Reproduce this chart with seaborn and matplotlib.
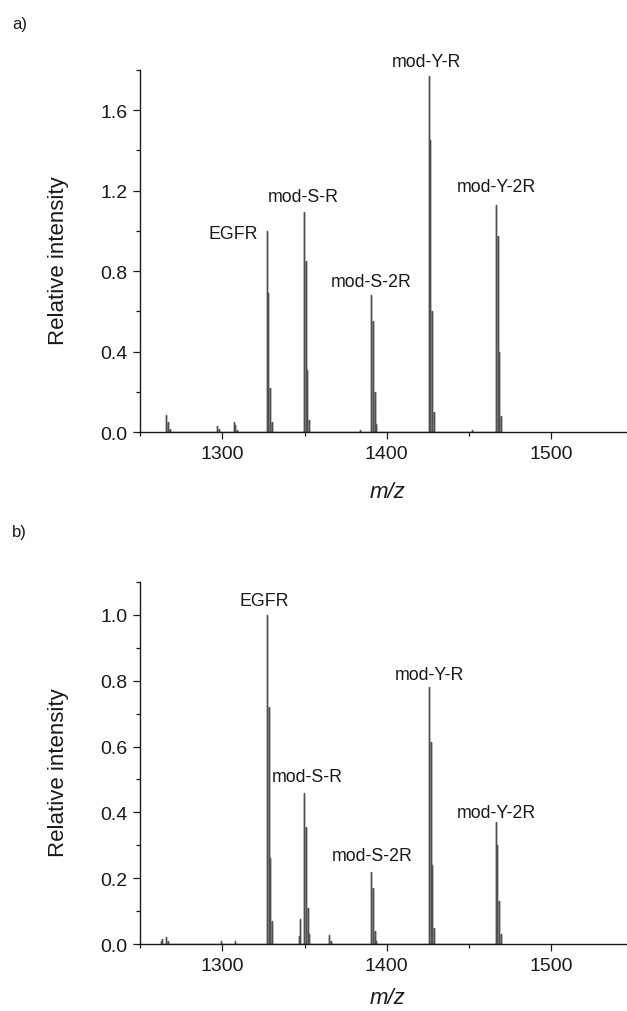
"""Two stacked mass spectra (EGFR peptide and its modified forms)."""

import matplotlib.pyplot as plt
import pandas as pd
import seaborn as sns
from matplotlib.ticker import FormatStrFormatter, MultipleLocator

# ---- data ------------------------------------------------------------------
# panel a) stick spectrum: m/z and relative intensity
mz_a = [1266.0, 1267.0, 1268.0, 1297.0, 1298.0, 1307.0, 1308.0, 1309.0,
        1327.0, 1328.0, 1329.0, 1330.0,
        1349.8, 1350.8, 1351.8, 1352.8,
        1383.6,
        1390.6, 1391.6, 1392.6, 1393.6,
        1425.5, 1426.5, 1427.5, 1428.5,
        1452.0,
        1466.4, 1467.4, 1468.4, 1469.4]
int_a = [0.085, 0.05, 0.015, 0.03, 0.015, 0.05, 0.035, 0.01,
         1.00, 0.69, 0.22, 0.05,
         1.095, 0.85, 0.31, 0.06,
         0.01,
         0.68, 0.55, 0.20, 0.04,
         1.77, 1.45, 0.60, 0.10,
         0.01,
         1.13, 0.975, 0.40, 0.08]

# panel b)
mz_b = [1262.5, 1263.5, 1266.0, 1267.0, 1299.0, 1308.0,
        1327.1, 1328.1, 1329.1, 1330.1,
        1346.4, 1347.5,
        1349.9, 1350.9, 1351.9, 1352.9,
        1365.0, 1366.0,
        1390.7, 1391.7, 1392.7, 1393.7,
        1425.6, 1426.6, 1427.6, 1428.6,
        1466.2, 1467.2, 1468.2, 1469.2]
int_b = [0.01, 0.015, 0.02, 0.01, 0.008, 0.008,
         1.00, 0.72, 0.26, 0.07,
         0.025, 0.075,
         0.46, 0.355, 0.11, 0.03,
         0.027, 0.01,
         0.22, 0.17, 0.04, 0.01,
         0.78, 0.615, 0.24, 0.05,
         0.37, 0.30, 0.13, 0.03]

# peak annotations: text, m/z anchor, intensity anchor, alignment
names = ["EGFR", "mod-S-R", "mod-S-2R", "mod-Y-R", "mod-Y-2R"]
lab_x_a = [1322.0, 1349.4, 1390.3, 1424.2, 1466.7]
lab_y_a = [0.985, 1.17, 0.75, 1.84, 1.22]
lab_ha_a = ["right", "center", "center", "center", "center"]
lab_x_b = [1325.6, 1351.8, 1391.2, 1426.0, 1466.7]
lab_y_b = [1.045, 0.51, 0.27, 0.82, 0.40]
lab_ha_b = ["center"] * 5

Y_MAX_A, Y_STEP_A = 1.8, 0.4
Y_MAX_B, Y_STEP_B = 1.1, 0.2
X_LIM = (1250, 1546)

LINE = "#505050"
INK = "#1a1a1a"


def stick_frame(mz, intensity):
    # each stick goes baseline -> peak -> baseline
    rows = []
    for m, h in sorted(zip(mz, intensity)):
        rows += [(m, 0.0), (m, h), (m, 0.0)]
    return pd.DataFrame(rows, columns=["mz", "intensity"])


def draw_panel(ax, mz, intensity, ymax, ystep, lab_x, lab_y, lab_ha, xlab_y):
    df = stick_frame(mz, intensity)
    sns.lineplot(data=df, x="mz", y="intensity", sort=False, estimator=None,
                 color=LINE, linewidth=1.0, ax=ax)
    ax.set_xlim(*X_LIM)
    ax.set_ylim(0, ymax)
    ax.xaxis.set_major_locator(MultipleLocator(100))
    ax.xaxis.set_minor_locator(MultipleLocator(50))
    ax.yaxis.set_major_locator(MultipleLocator(ystep))
    ax.yaxis.set_minor_locator(MultipleLocator(ystep / 2))
    ax.yaxis.set_major_formatter(FormatStrFormatter("%.1f"))
    ax.tick_params(which="major", length=5, width=0.9, pad=4, labelsize=14,
                   colors=INK, direction="out")
    ax.tick_params(which="minor", length=3, width=0.9, colors=INK, direction="out")
    sns.despine(ax=ax)
    for side in ("left", "bottom"):
        ax.spines[side].set_linewidth(1.0)
        ax.spines[side].set_color(INK)
    ax.set_ylabel("Relative intensity", fontsize=16, color=INK)
    ax.set_xlabel("m/z", fontsize=16, style="italic", color=INK)
    ax.yaxis.set_label_coords(-0.146, 0.475)
    ax.xaxis.set_label_coords(0.509, xlab_y)
    for name, x, y, ha in zip(names, lab_x, lab_y, lab_ha):
        ax.text(x, y, name, ha=ha, va="center", fontsize=12.8, color=INK,
                clip_on=False)
    ax.grid(False)


sns.set_theme(style="ticks")
plt.rcParams["font.family"] = ["Liberation Sans", "DejaVu Sans"]

fig = plt.figure(figsize=(6.27, 10.12), dpi=100)
ax_a = fig.add_axes([0.2233, 0.5721, 0.7767, 0.3577])
ax_b = fig.add_axes([0.2233, 0.0662, 0.7767, 0.3577])

draw_panel(ax_a, mz_a, int_a, Y_MAX_A, Y_STEP_A, lab_x_a, lab_y_a, lab_ha_a, -0.135)
draw_panel(ax_b, mz_b, int_b, Y_MAX_B, Y_STEP_B, lab_x_b, lab_y_b, lab_ha_b, -0.118)

fig.text(12 / 627, 1 - 25 / 1012, "a)", fontsize=12, color=INK, va="center")
fig.text(12 / 627, 1 - 533 / 1012, "b)", fontsize=12, color=INK, va="center")

fig.savefig("out.png", dpi=100, facecolor="white")
